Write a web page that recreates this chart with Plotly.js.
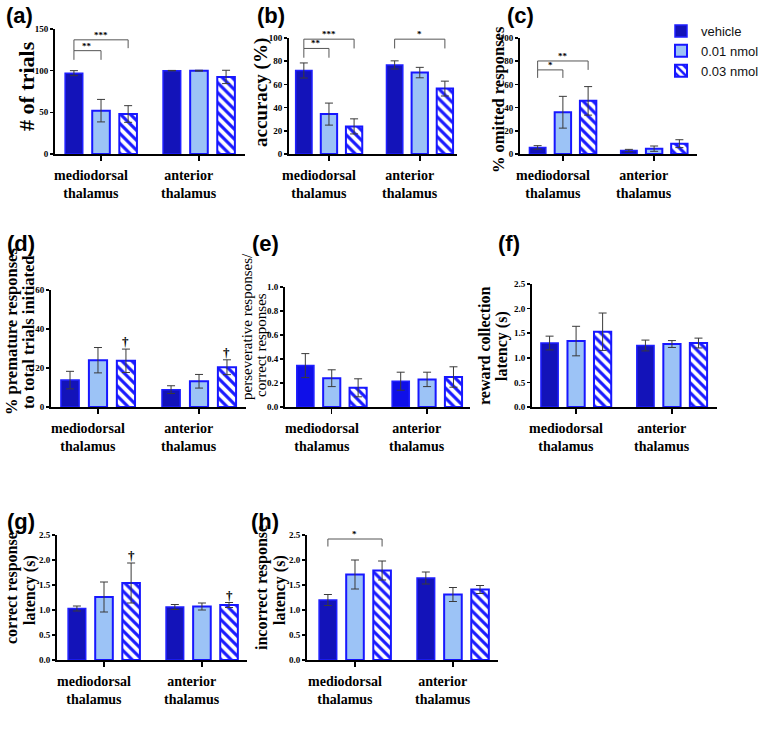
<!DOCTYPE html>
<html>
<head>
<meta charset="utf-8">
<script src="https://cdn.plot.ly/plotly-3.0.1.min.js"></script>
<style>body{margin:0;background:#fff}</style>
</head>
<body>
<div id="plot" style="width:764px;height:751px"></div>
<script>
const groups = ["mediodorsal<br>thalamus", "anterior<br>thalamus"];
const series = ["vehicle", "0.01 nmol", "0.03 nmol"];

// rows = series (vehicle, 0.01, 0.03), columns = groups (mediodorsal, anterior)
const trialsMean = [[97, 100], [52, 100], [48, 92.5]];
const trialsErr = [[3, 0.3], [13.5, 0.5], [10, 8]];
const accuracyMean = [[72, 76.8], [34.4, 70.2], [23.8, 56.4]];
const accuracyErr = [[6.5, 3.5], [9.5, 4.5], [6.5, 6.4]];
const omittedMean = [[5.7, 3], [36, 4.6], [45.8, 8.9]];
const omittedErr = [[1.5, 1], [13.7, 2.3], [12.3, 3.4]];
const prematureMean = [[13.8, 8.9], [24, 13.2], [23.7, 20.4]];
const prematureErr = [[4.5, 2], [6.5, 3.5], [6, 3.8]];
const persevMean = [[0.345, 0.215], [0.24, 0.23], [0.16, 0.25]];
const persevErr = [[0.1, 0.075], [0.07, 0.06], [0.075, 0.085]];
const rewardMean = [[1.3, 1.25], [1.34, 1.28], [1.53, 1.3]];
const rewardErr = [[0.14, 0.11], [0.3, 0.07], [0.38, 0.1]];
const correctMean = [[1.03, 1.06], [1.26, 1.07], [1.54, 1.1]];
const correctErr = [[0.05, 0.05], [0.3, 0.07], [0.4, 0.05]];
const incorrectMean = [[1.2, 1.64], [1.71, 1.31], [1.79, 1.41]];
const incorrectErr = [[0.11, 0.12], [0.29, 0.14], [0.19, 0.08]];

// significance brackets: [group, fromSeries, toSeries, top, leftLegEnd, rightLegEnd, label]
const trialsSig = [[0, 0, 1, 124, 113, 113, "**"], [0, 0, 2, 137, 124, 127, "***"]];
const accuracySig = [[0, 0, 1, 91, 83, 83, "**"], [0, 0, 2, 99, 91, 91, "***"], [1, 0, 2, 99, 91, 91, "*"]];
const omittedSig = [[0, 0, 1, 72.5, 65.6, 65.6, "*"], [0, 0, 2, 80.2, 72.5, 72.5, "**"]];
const incorrectSig = [[0, 0, 2, 2.42, 2.27, 2.27, "*"]];
// daggers above bars: [group, series]
const prematureDagger = [[0, 2], [1, 2]];
const correctDagger = [[0, 2], [1, 2]];

const titles = [["# of trials"], ["accuracy (%)"], ["% omitted responses"],
  ["% premature responses", "to total trials initiated"], ["perseverative responses/", "correct responses"],
  ["reward collection", "latency (s)"], ["correct response", "latency (s)"], ["incorrect response", "latency (s)"]];
const panelLabels = ["(a)", "(b)", "(c)", "(d)", "(e)", "(f)", "(g)", "(h)"];

const panels = [
  {mean: trialsMean, err: trialsErr, sig: trialsSig, dag: [], ymax: 150, dtick: 50, fmt: "d"},
  {mean: accuracyMean, err: accuracyErr, sig: accuracySig, dag: [], ymax: 100, dtick: 20, fmt: "d"},
  {mean: omittedMean, err: omittedErr, sig: omittedSig, dag: [], ymax: 100, dtick: 20, fmt: "d"},
  {mean: prematureMean, err: prematureErr, sig: [], dag: prematureDagger, ymax: 60, dtick: 20, fmt: "d"},
  {mean: persevMean, err: persevErr, sig: [], dag: [], ymax: 1, dtick: 0.2, fmt: ".1f"},
  {mean: rewardMean, err: rewardErr, sig: [], dag: [], ymax: 2.5, dtick: 0.5, fmt: ".1f"},
  {mean: correctMean, err: correctErr, sig: [], dag: correctDagger, ymax: 2.5, dtick: 0.5, fmt: ".1f"},
  {mean: incorrectMean, err: incorrectErr, sig: incorrectSig, dag: [], ymax: 2.5, dtick: 0.5, fmt: ".1f"}
];

// placement in pixels: plot box, x range, title line centres, title size/weight, panel label
const boxes = [
  {x0: 55, x1: 245, y0: 29, y1: 154, xr: [-0.47, 1.47], tp: [[27, 86]], ts: 22, tb: true, lx: 4, ly: 15},
  {x0: 289, x1: 457, y0: 38, y1: 154, xr: [-0.44, 1.41], tp: [[261, 93]], ts: 19, tb: true, lx: 255, ly: 15},
  {x0: 520, x1: 697, y0: 38, y1: 154, xr: [-0.47, 1.47], tp: [[498, 100]], ts: 16.5, tb: true, lx: 505, ly: 15},
  {x0: 51, x1: 246, y0: 290, y1: 407, xr: [-0.465, 1.465], tp: [[11, 332], [28, 332]], ts: 16.5, tb: true, lx: 5, ly: 243},
  {x0: 285, x1: 470, y0: 287, y1: 407, xr: [-0.49, 1.45], tp: [[247, 327], [261, 345]], ts: 15, tb: false, lx: 250, ly: 243},
  {x0: 532, x1: 717, y0: 284, y1: 407, xr: [-0.46, 1.47], tp: [[485, 346], [502, 346]], ts: 16, tb: true, lx: 496, ly: 243},
  {x0: 57, x1: 247, y0: 535, y1: 660, xr: [-0.48, 1.46], tp: [[12, 588], [30, 590]], ts: 16, tb: true, lx: 5, ly: 521},
  {x0: 307, x1: 498, y0: 535, y1: 660, xr: [-0.49, 1.46], tp: [[262, 588], [280, 590]], ts: 16, tb: true, lx: 249, ly: 521}
];

const W = 764, H = 751;
const bargap = 0.17, bargroupgap = 0.35;
const slot = (1 - bargap) / 3;
const serif = "Liberation Serif, Times New Roman, serif";
const sans = "Liberation Sans, Arial, sans-serif";

function seriesMarker(s, panelIdx) {
  if (s === 0) {
    return {color: panelIdx === 4 ? "#0f0fe8" : "#1313b9", line: {color: "#1f1fff", width: 1.5}};
  }
  if (s === 1) {
    return {color: "#9cc3f6", line: {color: "#1717ff", width: 2}};
  }
  return {color: "#ffffff", line: {color: "#1717ff", width: 2},
    pattern: {shape: "\\", fgcolor: "#1a1aff", bgcolor: "#ffffff", size: 7, solidity: 0.45, fillmode: "replace"}};
}

const data = [];
const layout = {
  width: W, height: H, autosize: false,
  margin: {l: 0, r: 0, t: 0, b: 0},
  paper_bgcolor: "#fff", plot_bgcolor: "rgba(0,0,0,0)",
  barmode: "group", bargap: bargap, bargroupgap: bargroupgap,
  showlegend: true,
  legend: {x: 1, y: 1 - 16 / H, xanchor: "right", yanchor: "top",
    font: {family: sans, size: 13, color: "#111"}, tracegroupgap: 0, bgcolor: "rgba(0,0,0,0)"},
  shapes: [], annotations: []
};

panels.forEach((p, i) => {
  const b = boxes[i];
  const sfx = i === 0 ? "" : String(i + 1);
  const xa = "x" + sfx, ya = "y" + sfx;
  for (let s = 0; s < 3; s++) {
    data.push({
      type: "bar", x: groups, y: p.mean[s], name: series[s],
      xaxis: xa, yaxis: ya, showlegend: i === 0, legendgroup: series[s],
      marker: seriesMarker(s, i),
      error_y: {type: "data", array: p.err[s], visible: true, color: "#3a3a3a", thickness: 1, width: 4},
      hoverinfo: "y"
    });
  }
  layout["xaxis" + sfx] = {
    domain: [b.x0 / W, b.x1 / W], anchor: ya, range: b.xr, type: "category",
    showline: true, linecolor: "#000", linewidth: 2, showgrid: false, zeroline: false,
    ticks: "outside", ticklen: 5, tickwidth: 1.5, tickcolor: "#000", showticklabels: false
  };
  layout["yaxis" + sfx] = {
    domain: [1 - b.y1 / H, 1 - b.y0 / H], anchor: xa, range: [0, p.ymax],
    dtick: p.dtick, tickformat: p.fmt,
    showline: true, linecolor: "#000", linewidth: 2, showgrid: false, zeroline: false,
    ticks: "outside", ticklen: 3, tickwidth: 1.5, tickcolor: "#000",
    tickfont: {family: serif, size: 9, weight: "bold", color: "#000"}
  };
  // category labels under each tick
  groups.forEach((g, gi) => {
    layout.annotations.push({
      xref: xa, yref: "paper", x: gi, y: 1 - (b.y1 + 12) / H, xanchor: "center", yanchor: "top",
      xshift: -10, text: g, showarrow: false, align: "center",
      font: {family: serif, size: 14, weight: "bold", color: "#000"}
    });
  });
  // y title lines
  titles[i].forEach((t, li) => {
    layout.annotations.push({
      xref: "paper", yref: "paper", x: b.tp[li][0] / W, y: 1 - b.tp[li][1] / H,
      xanchor: "center", yanchor: "middle", text: t, textangle: -90, showarrow: false,
      font: {family: serif, size: b.ts, weight: b.tb ? "bold" : "normal", color: "#000"}
    });
  });
  // panel label
  layout.annotations.push({
    xref: "paper", yref: "paper", x: b.lx / W, y: 1 - b.ly / H, xanchor: "left", yanchor: "middle",
    text: panelLabels[i], showarrow: false,
    font: {family: sans, size: 22, weight: "bold", color: "#000"}
  });
  // significance brackets
  p.sig.forEach(([g, s1, s2, top, l1, l2, lab]) => {
    const xA = g + (s1 - 1) * slot, xB = g + (s2 - 1) * slot;
    layout.shapes.push({
      type: "path", xref: xa, yref: ya,
      path: `M ${xA},${l1} L ${xA},${top} L ${xB},${top} L ${xB},${l2}`,
      line: {color: "#555", width: 1}
    });
    layout.annotations.push({
      xref: xa, yref: ya, x: (xA + xB) / 2, y: top, yanchor: "bottom", showarrow: false,
      text: lab, font: {family: serif, size: 9, weight: "bold", color: "#000"}, yshift: -2
    });
  });
  // daggers
  p.dag.forEach(([g, s]) => {
    layout.annotations.push({
      xref: xa, yref: ya, x: g + (s - 1) * slot, y: p.mean[s][g] + p.err[s][g],
      yanchor: "bottom", showarrow: false, text: "†",
      font: {family: serif, size: 13, weight: "bold", color: "#000"}, yshift: -2
    });
  });
});

Plotly.newPlot("plot", data, layout, {displayModeBar: false, staticPlot: true});
</script>
</body>
</html>
